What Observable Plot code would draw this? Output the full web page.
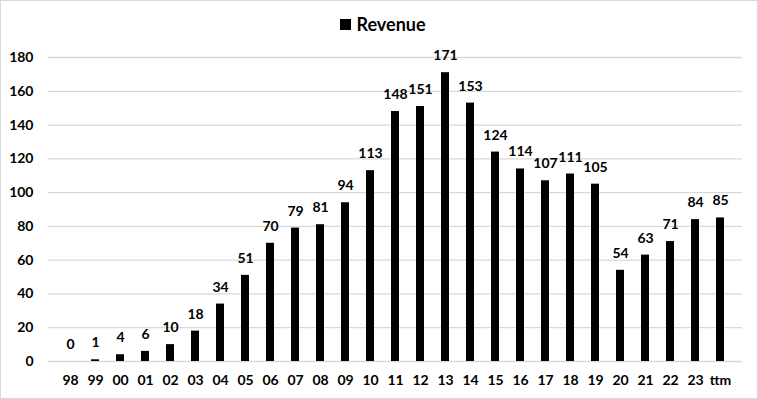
<!DOCTYPE html>
<html>
<head>
<meta charset="utf-8">
<script src="https://cdn.jsdelivr.net/npm/d3@7"></script>
<script src="https://cdn.jsdelivr.net/npm/@observablehq/plot@0.6"></script>
<style>
  html, body { margin: 0; padding: 0; background: #fff; }
  #frame { width: 758px; height: 399px; box-sizing: border-box; border: 1px solid #d9d9d9; background: #fff; font-family: Lato, "Open Sans", sans-serif; }
  #legend { height: 45px; display: flex; align-items: center; justify-content: center; font-weight: 700; font-size: 18px; color: #000; padding-left: 8px; box-sizing: border-box; padding-top: 1px; }
  #legend .sw { display: inline-block; width: 11px; height: 11px; background: #000; margin-right: 5px; }
  svg { display: block; }
</style>
</head>
<body>
<div id="frame">
  <div id="legend"><span class="sw"></span><span>Revenue</span></div>
  <div id="chart"></div>
</div>
<script>
const categories = ["98","99","00","01","02","03","04","05","06","07","08","09","10","11","12","13","14","15","16","17","18","19","20","21","22","23","ttm"];
const revenue = [0,1,4,6,10,18,34,51,70,79,81,94,113,148,151,171,153,124,114,107,111,105,54,63,71,84,85];
const yTicks = [0,20,40,60,80,100,120,140,160,180];

const data = categories.map((c, i) => ({cat: c, value: revenue[i]}));

const chart = Plot.plot({
  width: 756,
  height: 352,
  marginTop: 11,
  marginBottom: 37,
  marginLeft: 47,
  marginRight: 15,
  style: {fontFamily: "Lato, 'Open Sans', sans-serif", fontSize: "14px", fontWeight: "700", color: "#000", background: "#fff"},
  x: {domain: categories, paddingInner: 0.67, paddingOuter: 0.335, label: null},
  y: {domain: [0, 180], label: null},
  marks: [
    Plot.ruleY(yTicks, {stroke: "#d9d9d9", strokeWidth: 1.3}),
    Plot.axisY({ticks: yTicks, tickSize: 0, tickPadding: 15, label: null, fontSize: 14, fontWeight: 700}),
    Plot.axisX({tickSize: 0, tickPadding: 14, label: null, fontSize: 14, fontWeight: 700}),
    Plot.barY(data, {x: "cat", y: "value", fill: "#000"}),
    Plot.text(data, {x: "cat", y: "value", text: d => String(d.value), dy: -17, fontSize: 14, fontWeight: 700, fill: "#000"})
  ]
});
document.getElementById("chart").appendChild(chart);
</script>
</body>
</html>
